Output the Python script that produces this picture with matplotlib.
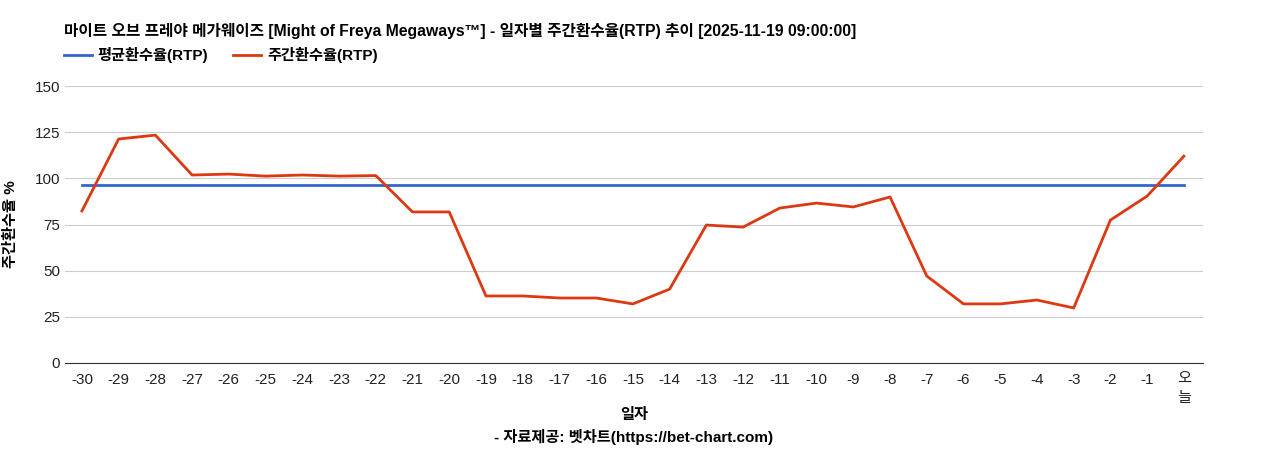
import matplotlib
matplotlib.use("Agg")
import matplotlib.pyplot as plt
import matplotlib.transforms as mtransforms

plt.rcParams['font.family'] = ['Liberation Sans', 'Noto Sans CJK KR', 'DejaVu Sans']

labels = [str(d) for d in range(-30, 0)] + ["오늘"]
weekly_rtp = [82.3, 121.3, 123.4, 101.8, 102.3, 101.2, 101.8, 101.2, 101.5, 81.8,
              81.8, 36.3, 36.3, 35.2, 35.2, 32.0, 40.0, 74.7, 73.6, 83.9,
              86.6, 84.5, 89.9, 47.1, 32.0, 32.0, 34.1, 29.8, 77.4, 90.4, 112.0]
avg_rtp = 96.4

fig = plt.figure(figsize=(12.68, 4.5), dpi=100)
ax = fig.add_axes([65/1268, 87/450, (1203-65)/1268, (363-86)/450])

x = list(range(len(labels)))
ax.plot(x, [avg_rtp]*len(x), color="#3366cc", lw=2)
ax.plot(x, weekly_rtp, color="#dc3912", lw=2)

ax.set_xlim(-0.46, 30.52)
ax.set_ylim(0, 150)
ax.set_yticks([0, 25, 50, 75, 100, 125, 150])
ax.set_xticks(x)
ax.set_xticklabels(labels[:-1] + [""])
# last label stacked vertically, one syllable per line
trans = mtransforms.blended_transform_factory(ax.transData, ax.transAxes)
for i, ch in enumerate(labels[-1]):
    ax.text(x[-1], -0.058 - i * 0.068, ch, transform=trans, ha="center", va="center",
            fontsize=11, color="#222222")
ax.tick_params(axis="both", length=0, labelsize=11, colors="#222222")
ax.tick_params(axis="x", pad=7)
ax.grid(axis="y", color="#cccccc", lw=0.8)
ax.set_axisbelow(True)
for s in ["top", "right", "left"]:
    ax.spines[s].set_visible(False)
ax.spines["bottom"].set_color("#333333")

ax.set_ylabel("주간환수율 %", fontsize=11, fontweight="bold", labelpad=12)
fig.text(634/1268, 1 - 415/450, "일자", ha="center", va="center", fontsize=11, fontweight="bold")
fig.text(634/1268, 1 - 437/450, "- 자료제공: 벳차트(https://bet-chart.com)", ha="center", va="center",
         fontsize=11, fontweight="bold")

fig.text(64/1268, 1 - 31/450, "마이트 오브 프레야 메가웨이즈 [Might of Freya Megaways™] - 일자별 주간환수율(RTP) 추이 [2025-11-19 09:00:00]",
         ha="left", va="center", fontsize=11.3, fontweight="bold")

fig.lines.append(plt.Line2D([64/1268, 92/1268], [1 - 55/450]*2, color="#3366cc", lw=2, transform=fig.transFigure))
fig.text(97/1268, 1 - 55/450, "평균환수율(RTP)", ha="left", va="center", fontsize=11, fontweight="bold")
fig.lines.append(plt.Line2D([233/1268, 261/1268], [1 - 55/450]*2, color="#dc3912", lw=2, transform=fig.transFigure))
fig.text(267/1268, 1 - 55/450, "주간환수율(RTP)", ha="left", va="center", fontsize=11, fontweight="bold")

fig.savefig("out.png", dpi=100)
